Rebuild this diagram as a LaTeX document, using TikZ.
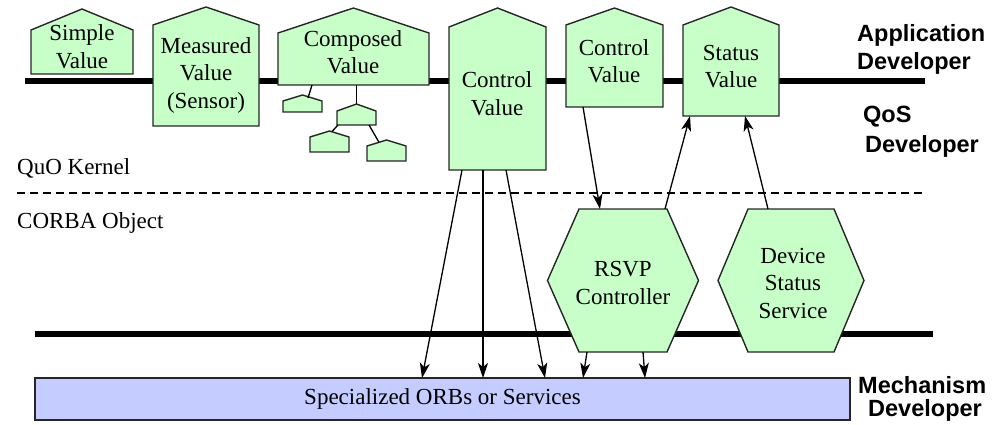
\documentclass[tikz,border=0pt]{standalone}
\usepackage{fontspec}
\setmainfont{Liberation Serif}
\newfontfamily\rolesans{Liberation Sans}
\usetikzlibrary{arrows.meta,backgrounds}

\definecolor{valuegreen}{RGB}{200,255,200}
\definecolor{orbblue}{RGB}{197,204,255}

\tikzset{
  slot/.style={inner sep=0pt, outer sep=0pt},
  serif/.style={font=\fontsize{23}{27.5}\selectfont, align=center, inner sep=0pt},
  layername/.style={font=\fontsize{23}{27.5}\selectfont, inner sep=0pt, anchor=base west},
  role/.style={font=\rolesans\bfseries\fontsize{23.5}{28}\selectfont, inner sep=0pt, anchor=base west},
  outline/.style={draw=black!85, line width=1.4pt, fill=valuegreen, line join=miter},
  bus/.style={line width=6pt},
  wire/.style={line width=1.3pt},
  call/.style={line width=1.3pt, -{Stealth[length=15pt,width=10pt,inset=4pt]}},
  divider/.style={line width=2pt, dash pattern=on 8pt off 5pt},
}

% house-shaped value object: body of the named node plus a roof of the given height
\newcommand\drawhouse[2]{%
  \draw[outline] (#1.south west) -- (#1.north west) -- ([yshift=#2]#1.north)
    -- (#1.north east) -- (#1.south east) -- cycle;}
% hexagonal service object: #2 is half the length of the flat top and bottom edges
\newcommand\drawhex[2]{%
  \draw[outline] (#1.west) -- ([xshift=-#2]#1.north) -- ([xshift=#2]#1.north)
    -- (#1.east) -- ([xshift=#2]#1.south) -- ([xshift=-#2]#1.south) -- cycle;}

\begin{document}
\begin{tikzpicture}[x=1pt,y=-1pt]
\useasboundingbox (0,0) rectangle (1001,425);

% object bodies
\node[slot, minimum width=102, minimum height=44]  (simple)   at (82,52)      {};
\node[slot, minimum width=106, minimum height=101] (measured) at (206,75.5)   {};
\node[slot, minimum width=151, minimum height=52]  (composed) at (353.5,59)   {};
\node[slot, minimum width=39,  minimum height=11]  (part1)    at (302.5,106.5) {};
\node[slot, minimum width=39,  minimum height=14]  (part2)    at (356.5,118)  {};
\node[slot, minimum width=39,  minimum height=15]  (part3)    at (329.5,144.5) {};
\node[slot, minimum width=39,  minimum height=15]  (part4)    at (386.5,153.5) {};
\node[slot, minimum width=97,  minimum height=143] (control)  at (497.5,98.5) {};
\node[slot, minimum width=97,  minimum height=82]  (control2) at (614.5,66)   {};
\node[slot, minimum width=96,  minimum height=91]  (status)   at (731,70.5)   {};
\node[slot, minimum width=151, minimum height=143] (rsvp)     at (623,280.5)  {};
\node[slot, minimum width=146, minimum height=143] (device)   at (791,280.5)  {};

% object texts
\node[serif] (simple-t)   at (82,46.5)  {Simple\\Value};
\node[serif] (measured-t) at (206,75)   {Measured\\Value\\(Sensor)};
\node[serif] (composed-t) at (353,52)   {Composed\\Value};
\node[serif] (control-t)  at (497,93.5) {Control\\Value};
\node[serif] (control2-t) at (614,61)   {Control\\Value};
\node[serif] (status-t)   at (731,66.5) {Status\\Value};
\node[serif] (rsvp-t)     at (623,283)  {RSVP\\Controller};
\node[serif] (device-t)   at (793,283)  {Device\\Status\\Service};

% ORB layer
\node[slot, draw=black!85, line width=1.4pt, fill=orbblue,
      minimum width=815, minimum height=42,
      font=\fontsize{23}{27.5}\selectfont] (orb) at (442.5,399)
      {Specialized ORBs or Services};

% layer names
\node[layername] (kernel) at (17,174) {QuO Kernel};
\node[layername] (corba)  at (17,228) {CORBA Object};

% developer roles
\node[role] (app1)  at (857,42)  {Application};
\node[role] (app2)  at (857,70)  {Developer};
\node[role] (qos1)  at (863,123) {QoS};
\node[role] (qos2)  at (865,153) {Developer};
\node[role] (mech1) at (858,393) {Mechanism};
\node[role] (mech2) at (868,416) {Developer};

% boundaries and shapes behind the texts
\begin{scope}[on background layer]
  \coordinate (topbus-w) at (25,81);
  \coordinate (topbus-e) at (925,81);
  \coordinate (lowbus-w) at (35,334);
  \coordinate (lowbus-e) at (933,334);
  \coordinate (split-w)  at (17,193);
  \coordinate (split-e)  at (925,193);
  \draw[bus] (topbus-w) -- (topbus-e);
  \draw[bus] (lowbus-w) -- (lowbus-e);
  \draw[divider] (split-w) -- (split-e);

  \drawhouse{simple}{21pt}
  \drawhouse{measured}{18pt}
  \drawhouse{composed}{25pt}
  \drawhouse{part1}{6pt}
  \drawhouse{part2}{7pt}
  \drawhouse{part3}{6pt}
  \drawhouse{part4}{6pt}
  \drawhouse{control}{19pt}
  \drawhouse{control2}{17pt}
  \drawhouse{status}{18pt}
  \drawhex{rsvp}{44pt}
  \drawhex{device}{43pt}
\end{scope}

% composition tree
\draw[wire] ([xshift=-41.5pt]composed.south) -- ([xshift=5.5pt,yshift=3pt]part1.north);
\draw[wire] ([xshift=3pt]composed.south) -- ([yshift=7pt]part2.north);
\draw[wire] ([xshift=-18.5pt]part2.south) -- ([xshift=2.5pt,yshift=5.5pt]part3.north);
\draw[wire] ([xshift=12.5pt]part2.south) -- ([xshift=-7.5pt,yshift=3.7pt]part4.north);

% calls
\draw[call] ([xshift=-35.5pt]control.south) -- ([xshift=-20.5pt]orb.north);
\draw[call] ([xshift=-14.5pt]control.south) -- ([xshift=40.5pt]orb.north);
\draw[call] ([xshift=8.5pt]control.south)   -- ([xshift=102.5pt]orb.north);
\draw[call] ([xshift=-36pt]rsvp.south) -- ([xshift=140.5pt]orb.north);
\draw[call] ([xshift=20pt]rsvp.south)  -- ([xshift=202.5pt]orb.north);
\draw[call] ([xshift=-31.5pt]control2.south) -- ([xshift=-23pt]rsvp.north);
\draw[call] ([xshift=42pt]rsvp.north)   -- ([xshift=-41pt]status.south);
\draw[call] ([xshift=-23pt]device.north) -- ([xshift=14pt]status.south);
\end{tikzpicture}
\end{document}
